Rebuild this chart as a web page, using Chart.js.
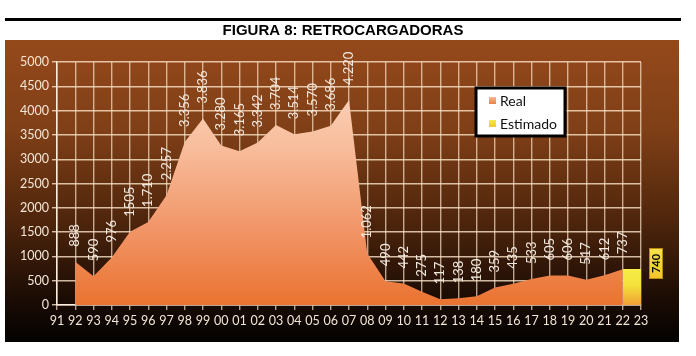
<!DOCTYPE html>
<html>
<head>
<meta charset="utf-8">
<script src="https://cdn.jsdelivr.net/npm/chart.js@4"></script>
<style>
  html, body { margin: 0; padding: 0; background: #ffffff; }
  #wrap { position: relative; width: 696px; height: 356px; }
</style>
</head>
<body>
<div id="wrap"><canvas id="c" width="696" height="356"></canvas></div>
<script>
// ---- data ----
const yearLabels = ['91','92','93','94','95','96','97','98','99','00','01','02','03','04','05','06','07','08','09','10','11','12','13','14','15','16','17','18','19','20','21','22','23'];
const realYears  = ['92','93','94','95','96','97','98','99','00','01','02','03','04','05','06','07','08','09','10','11','12','13','14','15','16','17','18','19','20','21','22'];
const realValues = [888,590,976,1505,1710,2257,3356,3836,3280,3165,3342,3704,3514,3570,3686,4220,1062,490,442,275,117,138,180,359,435,533,605,606,517,612,737];
const realValueText = ['888','590','976','1505','1.710','2.257','3.356','3.836','3.280','3.165','3.342','3.704','3.514','3.570','3.686','4.220','1.062','490','442','275','117','138','180','359','435','533','605','606','517','612','737'];
const estYears  = ['22','23'];
const estValues = [740, 740];
const estValueText = '740';
const yTicks = [0,500,1000,1500,2000,2500,3000,3500,4000,4500,5000];
const chartTitle = 'FIGURA 8: RETROCARGADORAS';
const seriesNames = ['Real', 'Estimado'];

// build aligned arrays
const realData = yearLabels.map(y => { const i = realYears.indexOf(y); return i >= 0 ? realValues[i] : null; });
const estData  = yearLabels.map(y => { const i = estYears.indexOf(y); return i >= 0 ? estValues[i] : null; });

const FONT = 'Lato, "Open Sans", sans-serif';

function realGradient(ctx) {
  const chart = ctx.chart; const a = chart.chartArea;
  if (!a) return '#ee8a50';
  const g = chart.ctx.createLinearGradient(0, a.top, 0, a.bottom);
  g.addColorStop(0, '#fcdac6');
  g.addColorStop(0.35, '#f8bd9c');
  g.addColorStop(0.7, '#f19466');
  g.addColorStop(1, '#ea7330');
  return g;
}
function estGradient(ctx) {
  const chart = ctx.chart; const a = chart.chartArea;
  if (!a) return '#f3e040';
  const top = chart.scales.y.getPixelForValue(estValues[0]);
  const g = chart.ctx.createLinearGradient(0, top, 0, a.bottom);
  g.addColorStop(0, '#f6ec4a');
  g.addColorStop(0.45, '#f5e23a');
  g.addColorStop(1, '#efa035');
  return g;
}

const framePlugin = {
  id: 'frame',
  beforeDraw(chart) {
    const c = chart.ctx;
    c.save();
    c.fillStyle = '#ffffff';
    c.fillRect(0, 0, chart.width, chart.height);
    // top rule
    c.fillStyle = '#000000';
    c.fillRect(5, 18, 676, 3);
    // title
    c.font = 'bold 15px "Liberation Sans", Arial, sans-serif';
    c.textAlign = 'center';
    c.textBaseline = 'middle';
    c.fillText(chartTitle, 343, 31);
    // brown box
    const g = c.createLinearGradient(0, 40, 0, 342);
    g.addColorStop(0, '#95491b');
    g.addColorStop(0.3, '#7f3f17');
    g.addColorStop(0.6, '#4e250c');
    g.addColorStop(0.85, '#1c0c04');
    g.addColorStop(1, '#030201');
    c.fillStyle = g;
    c.fillRect(5, 40, 674, 302);
    c.restore();
  }
};

const labelPlugin = {
  id: 'vlabels',
  afterDatasetsDraw(chart) {
    const c = chart.ctx;
    const meta = chart.getDatasetMeta(0);
    c.save();
    c.font = '13px ' + FONT;
    c.fillStyle = '#f1e8df';
    c.textAlign = 'left';
    c.textBaseline = 'middle';
    let k = 0;
    meta.data.forEach((pt, i) => {
      if (realData[i] == null) return;
      const txt = realValueText[k++];
      c.save();
      c.translate(pt.x, pt.y - 15);
      c.rotate(-Math.PI / 2);
      c.fillText(txt, 0, 0);
      c.restore();
    });
    c.restore();
  },
  afterDraw(chart) {
    const c = chart.ctx;
    c.save();
    // legend box
    c.fillStyle = '#ffffff';
    c.fillRect(476, 88, 89, 48);
    c.strokeStyle = '#000000';
    c.lineWidth = 3;
    c.strokeRect(476, 88, 89, 48);
    const gr = c.createLinearGradient(0, 97, 0, 105);
    gr.addColorStop(0, '#f7b894'); gr.addColorStop(1, '#ea7a3a');
    c.fillStyle = gr;
    c.fillRect(489, 97, 7, 7);
    const gy = c.createLinearGradient(0, 120, 0, 128);
    gy.addColorStop(0, '#f6ea4a'); gy.addColorStop(1, '#f0c030');
    c.fillStyle = gy;
    c.fillRect(489, 120, 7, 7);
    c.fillStyle = '#111111';
    c.font = '14px ' + FONT;
    c.textAlign = 'left';
    c.textBaseline = 'middle';
    c.fillText(seriesNames[0], 500, 101);
    c.fillText(seriesNames[1], 500, 124);
    // estimated value box
    const bx = 649, by = 248, bw = 14, bh = 31;
    const gb = c.createLinearGradient(0, by, 0, by + bh);
    gb.addColorStop(0, '#f7e24a'); gb.addColorStop(1, '#f1c62a');
    c.fillStyle = gb;
    c.fillRect(bx, by, bw, bh);
    c.strokeStyle = '#b88a10';
    c.lineWidth = 1;
    c.strokeRect(bx + 0.5, by + 0.5, bw - 1, bh - 1);
    c.fillStyle = '#000000';
    c.font = 'bold 11px ' + FONT;
    c.textAlign = 'center';
    c.textBaseline = 'middle';
    c.translate(bx + bw / 2 + 0.5, by + bh / 2);
    c.rotate(-Math.PI / 2);
    c.fillText(estValueText, 0, 0);
    c.restore();
  }
};

new Chart(document.getElementById('c'), {
  type: 'line',
  data: {
    labels: yearLabels,
    datasets: [
      { label: seriesNames[0], data: realData, fill: 'origin', backgroundColor: realGradient,
        borderWidth: 0, borderColor: 'rgba(0,0,0,0)', pointRadius: 0, tension: 0, spanGaps: false },
      { label: seriesNames[1], data: estData, fill: 'origin', backgroundColor: estGradient,
        borderWidth: 0, borderColor: 'rgba(0,0,0,0)', pointRadius: 0, tension: 0 }
    ]
  },
  options: {
    responsive: false,
    animation: false,
    layout: { padding: { left: 10, right: 55, top: 62, bottom: 21 } },
    plugins: { legend: { display: false }, tooltip: { enabled: false }, title: { display: false } },
    scales: {
      x: {
        type: 'category',
        offset: false,
        z: 1,
        grid: { offset: false, color: 'rgba(255,232,205,0.68)', lineWidth: 1.4, tickLength: 5, drawTicks: true },
        border: { color: 'rgba(255,240,225,0.95)', width: 1.5 },
        ticks: { color: '#f3e6d6', font: { family: FONT, size: 12.5 }, maxRotation: 0, autoSkip: false, padding: 3 },
        afterFit(s) { s.height = 30; }
      },
      y: {
        min: 0, max: 5000,
        afterBuildTicks(s) { s.ticks = yTicks.map(v => ({ value: v })); },
        grid: { color: 'rgba(255,232,205,0.78)', lineWidth: 1.4, tickLength: 5 },
        border: { color: 'rgba(255,240,225,0.95)', width: 1.5 },
        ticks: { color: '#f3e6d6', font: { family: FONT, size: 12.5 }, padding: 3, callback: (v) => String(v) },
        afterFit(s) { s.width = 47; }
      }
    }
  },
  plugins: [framePlugin, labelPlugin]
});
</script>
</body>
</html>
